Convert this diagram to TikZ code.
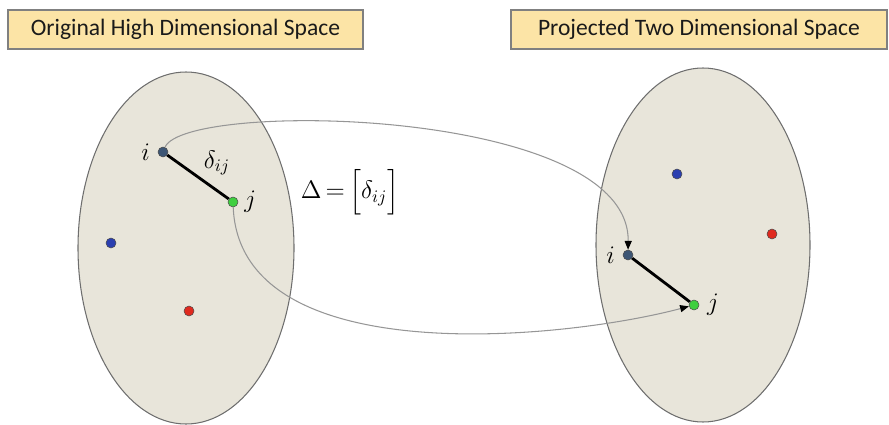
\documentclass[tikz,border=0pt]{standalone}
\usepackage{amsmath}
\usepackage{fontspec}
\setsansfont{Carlito}
\usepackage{tikz}
\usetikzlibrary{arrows.meta}
\definecolor{ink}{HTML}{1A1A1A}
\definecolor{titlefill}{HTML}{FCE4A6}
\definecolor{titleline}{HTML}{808080}
\definecolor{space}{HTML}{E8E5DA}
\definecolor{spaceline}{HTML}{6E6E6E}
\definecolor{linkgray}{HTML}{969696}
\definecolor{ptslate}{HTML}{3D5675}
\definecolor{ptgreen}{HTML}{3FCF3F}
\definecolor{ptblue}{HTML}{2B3FB0}
\definecolor{ptred}{HTML}{E02A1F}

\begin{document}
\begin{tikzpicture}
    \tikzset{
      title/.style={draw=titleline,fill=titlefill,line width=0.6pt,minimum height=0.78cm,font=\sffamily\fontsize{13.4}{15}\selectfont,text=ink},
      pt/.style={circle,draw=black!70,line width=0.3pt,inner sep=0pt,minimum size=0.2cm},
      dist/.style={line width=1.6pt,black},
      link/.style={draw=linkgray,line width=0.6pt},
      tip/.style={-{Triangle[length=5pt,width=4pt,color=black]}}
    }
    \useasboundingbox (0,0) rectangle (17.78,8.48);
    % titles
    \node[title,minimum width=7.1cm] (ttl) at (3.71,7.89) {Original High Dimensional Space};
    \node[title,minimum width=7.52cm] (ttr) at (13.98,7.89) {Projected Two Dimensional Space};
    % the two spaces
    \draw[fill=space,draw=spaceline,line width=0.6pt] (3.72,3.52) ellipse [x radius=2.16, y radius=3.52];
    \draw[fill=space,draw=spaceline,line width=0.6pt] (14.06,3.58) ellipse [x radius=2.14, y radius=3.54];
    % points
    \node[pt,fill=ptslate] (li) at (3.26,5.44) {};
    \node[pt,fill=ptgreen] (lj) at (4.66,4.44) {};
    \node[pt,fill=ptblue] (lb) at (2.22,3.62) {};
    \node[pt,fill=ptred] (lr) at (3.78,2.26) {};
    \node[pt,fill=ptblue] (rb) at (13.54,5.00) {};
    \node[pt,fill=ptred] (rr) at (15.44,3.80) {};
    \node[pt,fill=ptslate] (ri) at (12.56,3.38) {};
    \node[pt,fill=ptgreen] (rj) at (13.88,2.38) {};
    % labels
    \node[left=1pt,font=\Large] (lil) at (li.west) {$i$};
    \node[right=0pt,font=\Large] (ljl) at (lj.east) {$j$};
    \node[left=1pt,font=\Large] (ril) at (ri.west) {$i$};
    \node[right=1pt,font=\Large] (rjl) at (rj.east) {$j$};
    \node[font=\Large] (dij) at (4.34,5.22) {$\delta_{ij}$};
    \node[font=\Large] (dmat) at (7.0,4.64) {$\Delta{\,=\,}\Bigl[\delta_{ij}\Bigr]$};
    % distances
    \draw[dist] (li) -- (lj);
    \draw[dist] (ri) -- (rj);
    % mapping
    \draw[link,tip] (li) .. controls +(0.44,1.04) and +(0.04,2.96) .. (ri);
    \draw[link,tip] (lj) .. controls +(0.14,-3.4) and +(-2.64,-0.7) .. (rj);
\end{tikzpicture}
\end{document}
